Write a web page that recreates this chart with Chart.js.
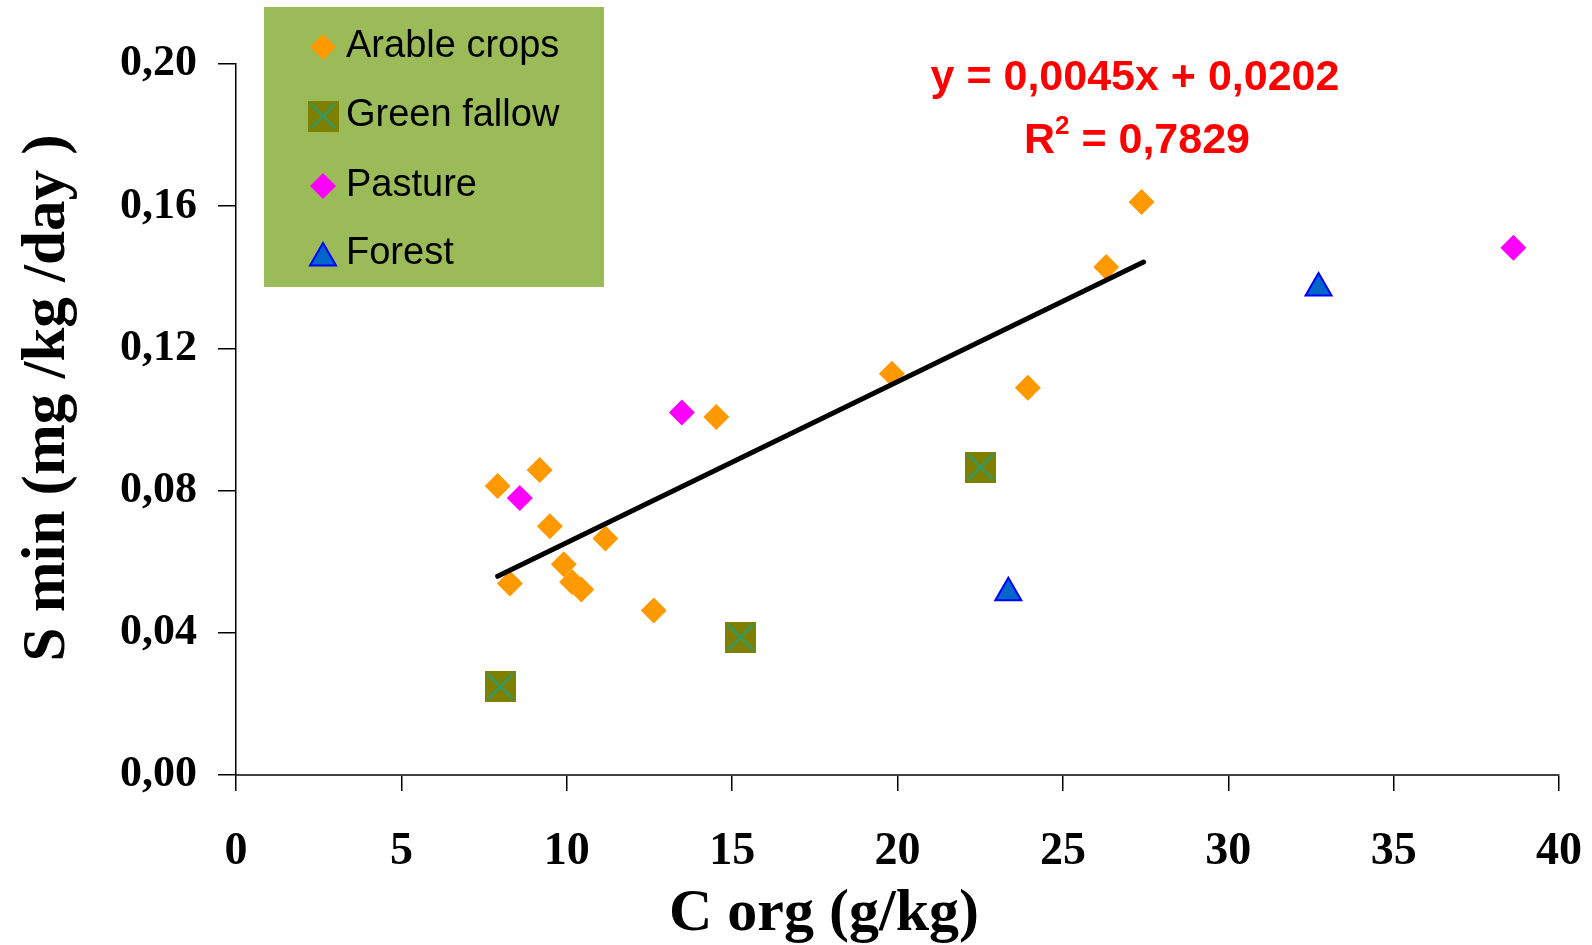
<!DOCTYPE html>
<html>
<head>
<meta charset="utf-8">
<script src="https://cdn.jsdelivr.net/npm/chart.js@4/dist/chart.umd.min.js"></script>
<style>
  body { margin: 0; background: #fff; }
  #wrap { width: 1592px; height: 945px; }
</style>
</head>
<body>
<div id="wrap"><canvas id="plot" width="1592" height="945"></canvas></div>
<script>
// values
const arableX = [7.91, 8.28, 9.18, 9.49, 9.91, 10.16, 10.44, 11.17, 12.63, 14.52, 19.83, 23.94, 26.31, 27.38];
const arableY = [0.0813, 0.0539, 0.0858, 0.0700, 0.0593, 0.0543, 0.0522, 0.0665, 0.0463, 0.1007, 0.1129, 0.1089, 0.1429, 0.1612];
const fallowX = [7.99, 15.25, 22.51];
const fallowY = [0.0249, 0.0387, 0.0866];
const pastureX = [8.58, 13.48, 38.62];
const pastureY = [0.0779, 0.1020, 0.1483];
const forestX = [23.35, 32.73];
const forestY = [0.0513, 0.1370];
const trendX = [7.91, 27.44];
const trendY = [0.0559, 0.1443];

const xTicks = [0, 5, 10, 15, 20, 25, 30, 35, 40];
const yTicks = [0, 0.04, 0.08, 0.12, 0.16, 0.20];
const xTitle = "C org (g/kg)";
const yTitle = "S min (mg /kg /day )";
const equation = "y = 0,0045x + 0,0202";
const rSquared = "0,7829";

const serif = "'Liberation Serif', 'Times New Roman', serif";
const sans = "'Liberation Sans', Arial, sans-serif";

const pts = (xs, ys) => xs.map((x, i) => ({ x, y: ys[i] }));

// square with an X, like the spreadsheet marker
function fallowMarker() {
  const c = document.createElement("canvas");
  c.width = 31; c.height = 31;
  const g = c.getContext("2d");
  g.fillStyle = "#808000";
  g.fillRect(0, 0, 31, 31);
  g.strokeStyle = "#339966";
  g.lineWidth = 2.5;
  g.beginPath();
  g.moveTo(3, 3); g.lineTo(28, 28);
  g.moveTo(28, 3); g.lineTo(3, 28);
  g.stroke();
  return c;
}
const fallowImg = fallowMarker();

const decorations = {
  id: "decorations",
  afterDraw(chart) {
    const ctx = chart.ctx;
    ctx.save();

    // axis titles
    ctx.fillStyle = "#000";
    ctx.textAlign = "center";
    ctx.textBaseline = "alphabetic";
    ctx.font = "bold 60px " + serif;
    ctx.fillText(xTitle, 824, 930);
    ctx.save();
    ctx.translate(64, 398);
    ctx.rotate(-Math.PI / 2);
    ctx.font = "bold 61px " + serif;
    ctx.fillText(yTitle, 0, 0);
    ctx.restore();

    // legend box
    ctx.fillStyle = "#9BBB59";
    ctx.fillRect(264, 7, 340, 280);
    const rows = [47, 116, 186, 254];
    const sets = chart.data.datasets.filter(d => d.inLegend);
    sets.forEach((d, i) => {
      const y = rows[i];
      if (d.pointStyle instanceof HTMLCanvasElement) {
        ctx.drawImage(d.pointStyle, 323 - 15.5, y - 15.5);
      } else {
        ctx.fillStyle = d.backgroundColor;
        ctx.strokeStyle = d.borderColor;
        ctx.lineWidth = d.borderWidth;
        Chart.helpers.drawPoint(ctx, {
          pointStyle: d.pointStyle, radius: d.pointRadius, rotation: 0, borderWidth: d.borderWidth
        }, 323, y + (d.pointStyle === "triangle" ? 4 : 0));
      }
      ctx.fillStyle = "#000";
      ctx.font = "38px " + sans;
      ctx.textAlign = "left";
      ctx.fillText(d.label, 346, y + 10);
    });

    // regression text
    ctx.fillStyle = "#FF0000";
    ctx.textAlign = "center";
    ctx.font = "bold 43px " + sans;
    ctx.fillText(equation, 1135, 90);
    const rest = " = " + rSquared;
    const wR = ctx.measureText("R").width;
    const wRest = ctx.measureText(rest).width;
    ctx.font = "bold 26px " + sans;
    const w2 = ctx.measureText("2").width;
    const x0 = 1137 - (wR + w2 + wRest) / 2;
    ctx.textAlign = "left";
    ctx.font = "bold 43px " + sans;
    ctx.fillText("R", x0, 153);
    ctx.font = "bold 26px " + sans;
    ctx.fillText("2", x0 + wR, 134);
    ctx.font = "bold 43px " + sans;
    ctx.fillText(rest, x0 + wR + w2, 153);
    ctx.restore();
  }
};

new Chart(document.getElementById("plot"), {
  type: "scatter",
  data: {
    datasets: [
      {
        label: "trend",
        data: pts(trendX, trendY),
        showLine: true,
        borderColor: "#000",
        borderWidth: 5,
        pointRadius: 0,
        borderCapStyle: "round"
      },
      {
        label: "Arable crops",
        inLegend: true,
        data: pts(arableX, arableY),
        pointStyle: "rectRot",
        pointRadius: 13,
        backgroundColor: "#FF9900",
        borderColor: "#FF9900",
        borderWidth: 0
      },
      {
        label: "Green fallow",
        inLegend: true,
        data: pts(fallowX, fallowY),
        pointStyle: fallowImg,
        pointRadius: 15,
        backgroundColor: "#808000",
        borderColor: "#808000",
        borderWidth: 0
      },
      {
        label: "Pasture",
        inLegend: true,
        data: pts(pastureX, pastureY),
        pointStyle: "rectRot",
        pointRadius: 13,
        backgroundColor: "#FF00FF",
        borderColor: "#FF00FF",
        borderWidth: 0
      },
      {
        label: "Forest",
        inLegend: true,
        data: pts(forestX, forestY),
        pointStyle: "triangle",
        pointRadius: 15,
        backgroundColor: "#0066CC",
        borderColor: "#0000FF",
        borderWidth: 2
      }
    ]
  },
  options: {
    responsive: false,
    animation: false,
    layout: { padding: { top: 64, right: 33, left: 0, bottom: 0 } },
    plugins: { legend: { display: false }, tooltip: { enabled: false } },
    scales: {
      x: {
        type: "linear",
        min: 0, max: 40,
        afterFit: s => { s.height = 170; s.paddingLeft = 0; s.paddingRight = 0; },
        afterBuildTicks: s => { s.ticks = xTicks.map(v => ({ value: v })); },
        border: { color: "#404040", width: 2 },
        grid: { drawOnChartArea: false, drawTicks: true, tickLength: 16, color: "#000", lineWidth: 1.5 },
        ticks: {
          padding: 34,
          color: "#000",
          maxRotation: 0,
          font: { family: serif, size: 46, weight: "bold" }
        }
      },
      y: {
        min: 0, max: 0.2,
        afterFit: s => { s.width = 236; s.paddingTop = 0; s.paddingBottom = 0; },
        afterBuildTicks: s => { s.ticks = yTicks.map(v => ({ value: v })); },
        border: { color: "#000", width: 1.5 },
        grid: { drawOnChartArea: false, drawTicks: true, tickLength: 18, color: "#000", lineWidth: 1.5 },
        ticks: {
          padding: 21,
          color: "#000",
          callback: v => v.toFixed(2).replace(".", ","),
          font: { family: serif, size: 44, weight: "bold" }
        }
      }
    }
  },
  plugins: [decorations]
});
</script>
</body>
</html>
